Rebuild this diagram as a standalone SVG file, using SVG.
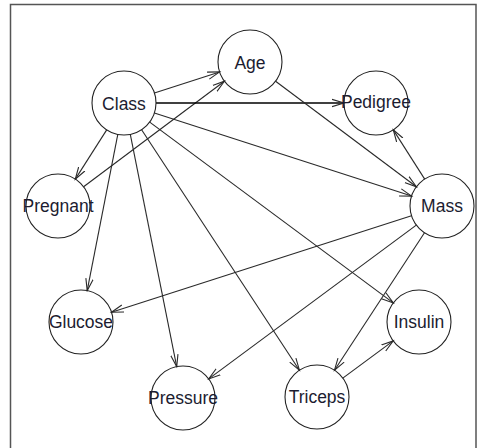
<svg xmlns="http://www.w3.org/2000/svg" width="481" height="448" viewBox="0 0 481 448">
<style>
.n circle{fill:none;stroke:#222;stroke-width:1.1}
.n text{font-family:"Liberation Sans",Arial,sans-serif;font-size:17.5px;fill:#1c1c30;text-anchor:middle}
.e line{stroke:#2a2a2a;stroke-width:1.1;marker-end:url(#ah)}
</style>
<defs>
<marker id="ah" markerUnits="userSpaceOnUse" markerWidth="14" markerHeight="12" refX="12" refY="5" orient="auto" viewBox="0 0 14 10">
<path d="M0,1.3 L12,5 L0,8.7" fill="none" stroke="#2a2a2a" stroke-width="1.1"/>
</marker>
</defs>
<rect x="10.5" y="4.5" width="465.5" height="460" fill="#fff" stroke="#555" stroke-width="1.5"/>
<g id="edges" class="e">
<line x1="154.4" y1="93.1" x2="219.6" y2="71.9"/>
<line x1="83.6" y1="186.8" x2="224.4" y2="81.2"/>
<line x1="156" y1="103" x2="344" y2="103" style="stroke:#000;stroke-width:1.4"/>
<line x1="154.4" y1="112.9" x2="411.6" y2="196.1"/>
<line x1="106.7" y1="129.9" x2="75.3" y2="179.1"/>
<line x1="117.8" y1="134.4" x2="87.2" y2="290.6"/>
<line x1="130.3" y1="134.4" x2="176.7" y2="366.6"/>
<line x1="141.6" y1="129.8" x2="299.4" y2="370.2"/>
<line x1="149.7" y1="122.1" x2="393.3" y2="302.9"/>
<line x1="275.6" y1="81.2" x2="416.4" y2="186.8"/>
<line x1="424.7" y1="179.1" x2="393.3" y2="129.9"/>
<line x1="411.5" y1="215.8" x2="111.5" y2="312.2"/>
<line x1="416.3" y1="225.1" x2="208.7" y2="378.9"/>
<line x1="424.5" y1="232.8" x2="334.5" y2="370.2"/>
<line x1="342.8" y1="378.1" x2="393.2" y2="340.9"/>
</g>
<g id="Age" class="n"><circle cx="250" cy="62" r="32"/><text x="250" y="68.5">Age</text></g>
<g id="Class" class="n"><circle cx="124" cy="103" r="32"/><text x="124" y="110">Class</text></g>
<g id="Pedigree" class="n"><circle cx="376" cy="103" r="32"/><text x="376" y="108">Pedigree</text></g>
<g id="Pregnant" class="n"><circle cx="58" cy="206" r="32"/><text x="58" y="212">Pregnant</text></g>
<g id="Mass" class="n"><circle cx="442" cy="206" r="32"/><text x="442" y="212">Mass</text></g>
<g id="Glucose" class="n"><circle cx="81" cy="322" r="32"/><text x="81" y="328">Glucose</text></g>
<g id="Insulin" class="n"><circle cx="419" cy="322" r="32"/><text x="419" y="328">Insulin</text></g>
<g id="Pressure" class="n"><circle cx="183" cy="398" r="32"/><text x="183" y="404">Pressure</text></g>
<g id="Triceps" class="n"><circle cx="317" cy="397" r="32"/><text x="317" y="403">Triceps</text></g>
</svg>
